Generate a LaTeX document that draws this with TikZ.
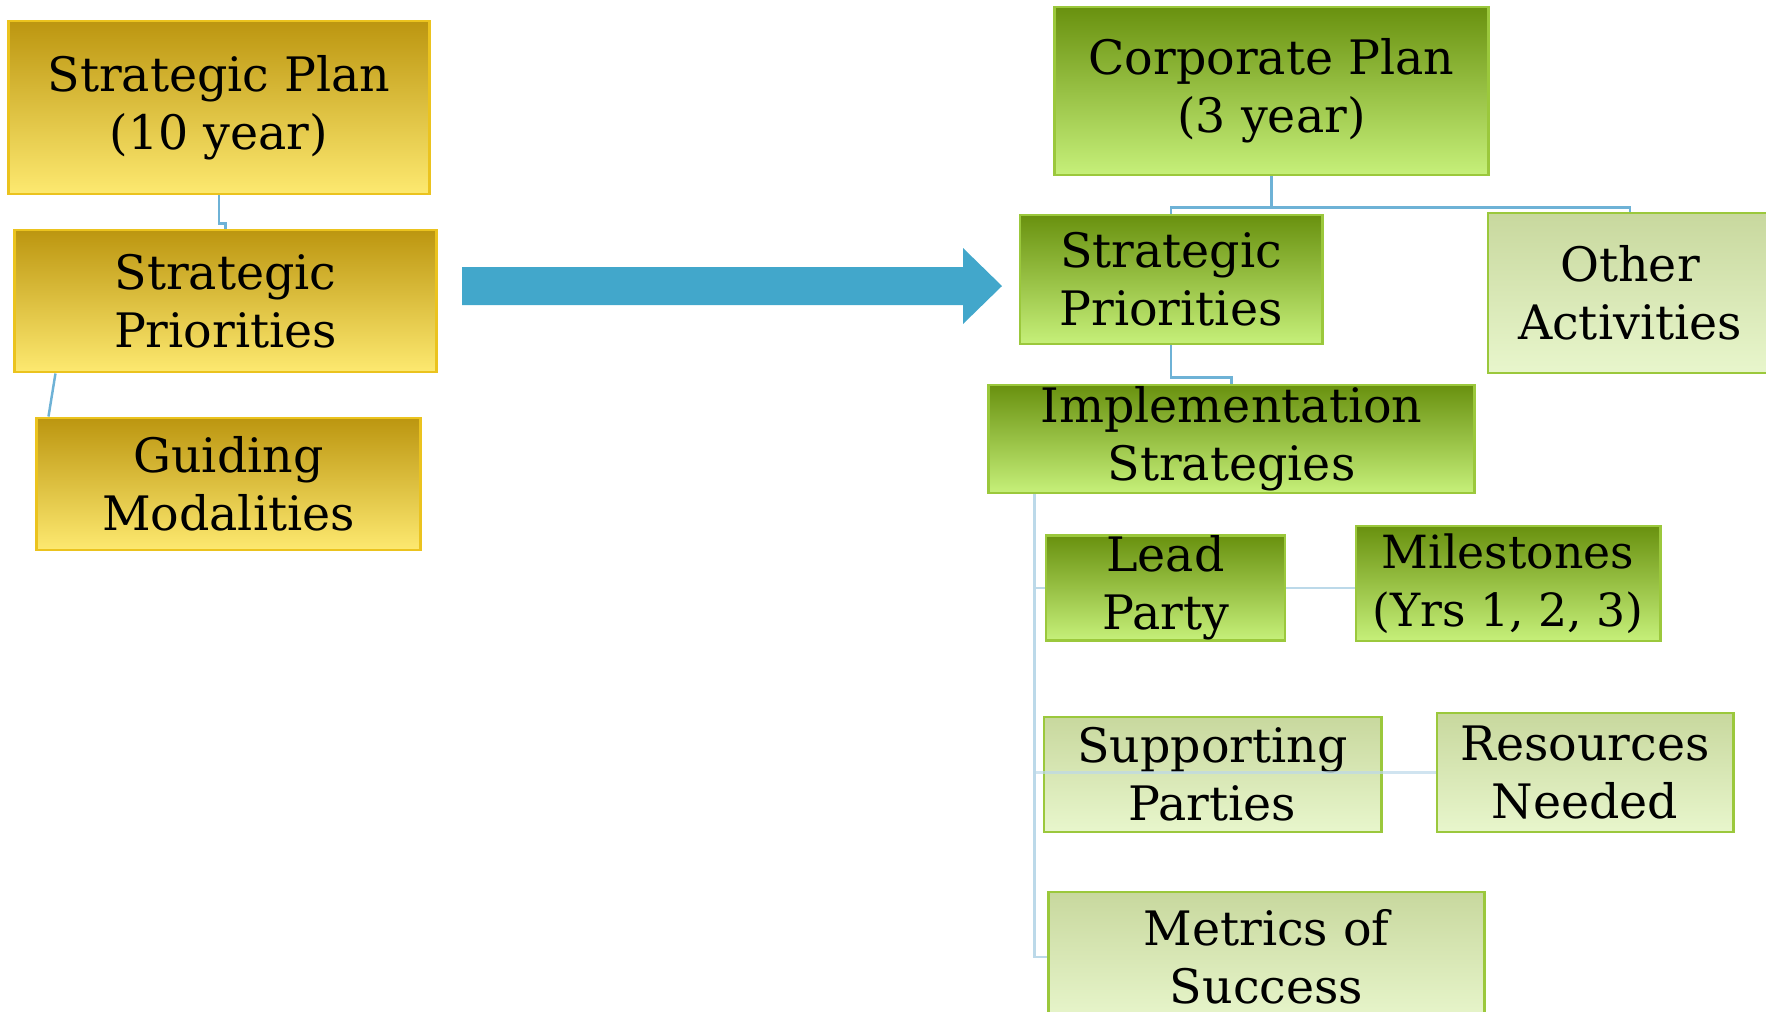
\documentclass[tikz,border=0pt]{standalone}
\usepackage{fontspec}
\setmainfont{DejaVu Serif}
\usepackage{xcolor}
\usepackage{tikz}
\usetikzlibrary{calc}

\definecolor{goldtop}{RGB}{188,150,16}
\definecolor{goldbot}{RGB}{253,233,112}
\definecolor{goldedge}{RGB}{235,195,30}
\definecolor{greentop}{RGB}{105,145,15}
\definecolor{greenbot}{RGB}{198,240,122}
\definecolor{paletop}{RGB}{200,216,158}
\definecolor{palebot}{RGB}{232,246,204}
\definecolor{greenedge}{RGB}{155,200,60}
\definecolor{arrowblue}{RGB}{66,167,203}
\definecolor{linkblue}{RGB}{110,178,214}
\definecolor{linkfaint}{RGB}{188,217,233}

\tikzset{
    plainbox/.style={line width=0.8pt, align=center, inner sep=0pt,
        font=\fontsize{13.5}{16.5}\selectfont},
    goldbox/.style={plainbox, draw=goldedge, top color=goldtop, bottom color=goldbot},
    greenbox/.style={plainbox, draw=greenedge, top color=greentop, bottom color=greenbot},
    palebox/.style={plainbox, draw=greenedge, top color=paletop, bottom color=palebot},
    link/.style={linkblue, line width=0.7pt},
    faintlink/.style={linkfaint, line width=0.7pt}
}

\begin{document}
\begin{tikzpicture}[x=0.01cm, y=-0.01cm]
        \useasboundingbox (0,0) rectangle (1766,1011);
        \clip (0,0) rectangle (1766,1011);

        % 10 year plan
        \node[goldbox, minimum width=4.20cm, minimum height=1.73cm] (plan10) at (219,107.5) {Strategic Plan\\(10 year)};
        \node[goldbox, minimum width=4.21cm, minimum height=1.42cm] (lpri) at (225.5,301) {Strategic\\Priorities};
        \node[goldbox, minimum width=3.83cm, minimum height=1.32cm] (guide) at (228.5,484) {Guiding\\Modalities};

        \fill[arrowblue] (462,267) -- (963,267) -- (963,248) -- (1002,286) -- (963,324) -- (963,305) -- (462,305) -- cycle;

        % 3 year plan
        \node[greenbox, minimum width=4.33cm, minimum height=1.68cm] (corp) at (1271.5,91) {Corporate Plan\\(3 year)};
        \node[greenbox, minimum width=3.02cm, minimum height=1.29cm] (rpri) at (1171,279.5) {Strategic\\Priorities};
        \node[palebox, minimum width=2.84cm, minimum height=1.60cm] (other) at (1630,293) {Other\\Activities};
        \node[greenbox, minimum width=4.85cm, minimum height=1.08cm] (impl) at (1231.5,439) {Implementation\\Strategies};
        \node[greenbox, minimum width=2.39cm, minimum height=1.02cm] (lead) at (1165.5,588) {Lead\\Party};
        \node[greenbox, minimum width=3.04cm, minimum height=1.15cm, font=\fontsize{13}{16.5}\selectfont] (miles) at (1508,583.5) {Milestones\\(Yrs 1, 2, 3)};
        \node[palebox, minimum width=3.37cm, minimum height=1.15cm] (supp) at (1212.5,774.5) {Supporting\\Parties};
        \node[palebox, minimum width=2.96cm, minimum height=1.19cm] (res) at (1585,772.5) {Resources\\Needed};
        \node[palebox, minimum width=4.35cm, minimum height=1.30cm] (metr) at (1266.5,957) {Metrics of\\Success};

        \draw[link] (plan10.south) -- ++(0,28) -| (lpri.north);
        \draw[link] ($(lpri.south west)+(42,0)$) -- ($(guide.north west)+(13,0)$);
        \draw[link] (corp.south) -- ++(0,31) -| (rpri.north);
        \draw[link] (corp.south) -- ++(0,31) -| (other.north);
        \draw[link] (rpri.south) -- ++(0,32) -| (impl.north);

        \coordinate (trunk) at ($(impl.south west)+(47,0)$);
        \draw[faintlink] (trunk) |- (metr.west);
        \draw[faintlink] (trunk) |- (lead.west);
        \draw[faintlink] (lead.east) -- (lead.east -| miles.west);
        \draw[faintlink, opacity=0.7] (trunk |- res.west) -- (res.west); % runs across supp
    \end{tikzpicture}
\end{document}
